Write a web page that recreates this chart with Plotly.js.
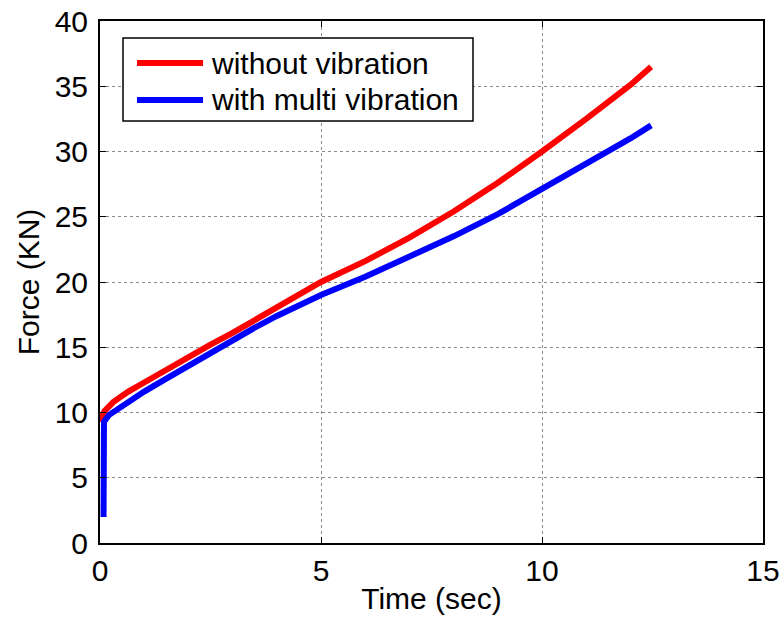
<!DOCTYPE html>
<html>
<head>
<meta charset="utf-8">
<script src="https://cdn.plot.ly/plotly-3.0.1.min.js"></script>
<style>html,body{margin:0;padding:0;background:#fff;}#chart{width:784px;height:621px;}</style>
</head>
<body>
<div id="chart"></div>
<script>
// Data
var seriesNames = ["without vibration", "with multi vibration"];
var seriesColors = ["#ff0000", "#0000ff"];

var timeNoVib  = [0, 0.1, 0.3, 0.64, 1, 1.4, 2, 2.5, 3, 3.5, 4, 4.5, 5, 6, 7, 8, 9, 10, 10.5, 11, 11.5, 12, 12.47];
var forceNoVib = [9.3, 10.1, 10.8, 11.6, 12.3, 13.1, 14.2, 15.2, 16.1, 17.1, 18.1, 19.0, 20.0, 21.6, 23.4, 25.4, 27.6, 30.0, 31.2, 32.5, 33.8, 35.1, 36.5];

var timeMulti  = [0.08, 0.09, 0.2, 0.5, 1, 1.5, 2, 2.5, 3, 3.5, 4, 4.5, 5, 6, 7, 8, 9, 10, 11, 11.5, 12, 12.47];
var forceMulti = [2.0, 9.3, 9.8, 10.5, 11.6, 12.6, 13.6, 14.6, 15.6, 16.5, 17.4, 18.2, 19.0, 20.4, 21.9, 23.5, 25.2, 27.1, 29.1, 30.0, 31.0, 32.0];

var xTicks = [0, 5, 10, 15];
var yTicks = [0, 5, 10, 15, 20, 25, 30, 35, 40];

var FONT = "Liberation Sans, Arial, sans-serif";
var FS = 30;

var traces = [
  {x: timeNoVib, y: forceNoVib, mode: "lines", name: seriesNames[0],
   line: {color: seriesColors[0], width: 6}},
  {x: timeMulti, y: forceMulti, mode: "lines", name: seriesNames[1],
   line: {color: seriesColors[1], width: 6}}
];

var axisCommon = {
  showline: true, linecolor: "#000", linewidth: 2, mirror: "ticks",
  ticks: "inside", ticklen: 6, tickcolor: "#000", tickwidth: 1,
  showgrid: true, gridcolor: "#8a8a8a", griddash: "dot", gridwidth: 1,
  zeroline: false, tickfont: {family: FONT, size: FS, color: "#000"}
};

var layout = {
  width: 784, height: 621,
  margin: {l: 100, r: 21, t: 21, b: 78},
  paper_bgcolor: "#fff", plot_bgcolor: "#fff",
  showlegend: false,
  font: {family: FONT, color: "#000"},
  xaxis: Object.assign({}, axisCommon, {
    range: [0, 15], tickvals: xTicks, ticktext: xTicks.map(String),
    ticklabelstandoff: 0,
    title: {text: "Time (sec)", font: {family: FONT, size: FS, color: "#000"}, standoff: 2}
  }),
  yaxis: Object.assign({}, axisCommon, {
    range: [0, 40], tickvals: yTicks, ticktext: yTicks.map(String),
    ticklabelstandoff: 4,
    title: {text: "Force (KN)", font: {family: FONT, size: FS, color: "#000"}, standoff: 6}
  }),
  shapes: [
    {type: "rect", xref: "paper", yref: "paper", x0: 0.0347, x1: 0.5626, y0: 0.8084, y1: 0.9674,
     line: {color: "#000", width: 1.5}, fillcolor: "#fff", layer: "above"},
    {type: "line", xref: "paper", yref: "paper", x0: 0.0558, x1: 0.1554, y0: 0.9195, y1: 0.9195,
     line: {color: seriesColors[0], width: 6}, layer: "above"},
    {type: "line", xref: "paper", yref: "paper", x0: 0.0558, x1: 0.1554, y0: 0.8487, y1: 0.8487,
     line: {color: seriesColors[1], width: 6}, layer: "above"}
  ],
  annotations: [
    {xref: "paper", yref: "paper", x: 0.1640, y: 0.9195, xanchor: "left", yanchor: "middle",
     text: seriesNames[0], showarrow: false, font: {family: FONT, size: FS, color: "#000"}},
    {xref: "paper", yref: "paper", x: 0.1640, y: 0.8487, xanchor: "left", yanchor: "middle",
     text: seriesNames[1], showarrow: false, font: {family: FONT, size: FS, color: "#000"}}
  ]
};

Plotly.newPlot("chart", traces, layout, {displayModeBar: false, staticPlot: true});
</script>
</body>
</html>
